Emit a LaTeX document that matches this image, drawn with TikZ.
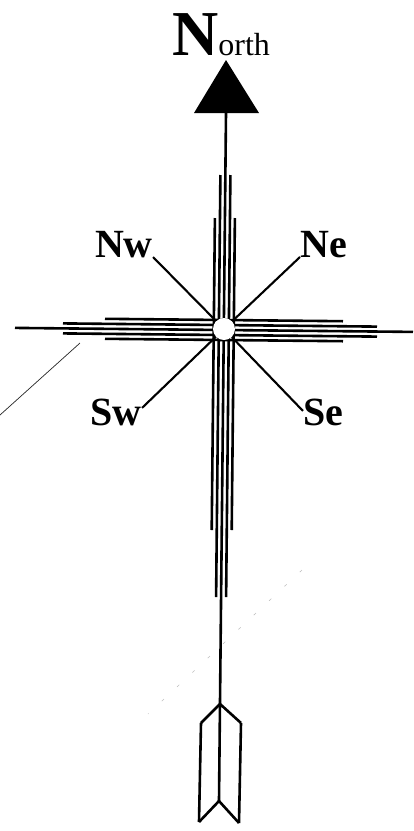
\documentclass[tikz,border=0pt]{standalone}
\usepackage{fontspec}
\setmainfont{Liberation Serif}
\usepackage{tikz}
\usetikzlibrary{calc, positioning}

\tikzset{
  bar/.style={line width=2.6pt},
  ray/.style={line width=2.1pt},
  dirlabel/.style={font=\fontsize{40}{40}\selectfont\bfseries, inner sep=0pt},
}

\begin{document}
\begin{tikzpicture}[x=1pt, y=-1pt]
  \useasboundingbox (0,0) rectangle (414,831);

  % faint scan lines
  \draw[line width=0.7pt, black!85] (80,343) -- (0,415);
  \draw[line width=0.6pt, black!25, dash pattern=on 3pt off 18pt] (302,570) -- (148,714);

  % arrow head and shaft
  \coordinate (tip) at (226,60);
  \coordinate (head) at (226,113);
  \coordinate (tail) at (219,801);
  \fill (tip) -- (259,113) -- (194,113) -- cycle;
  \draw[bar] (head) -- (tail);

  \node[inner sep=0pt, anchor=base west] (title) at (172,55)
    {{\fontsize{64}{64}\selectfont\bfseries N}{\fontsize{32}{32}\selectfont orth}};

  % vertical bundle
  \draw[bar] (220.4,175) -- (216.1,597);
  \draw[bar] (230.4,175) -- (226.1,597);
  \draw[bar] (214.9,218) -- (211.7,530);
  \draw[bar] (234.9,218) -- (231.7,530);

  % horizontal bundle
  \draw[bar] (15,327.9) -- (413,331.9);
  \draw[bar] (63,323.4) -- (377,326.6);
  \draw[bar] (63,333.4) -- (377,336.6);
  \draw[bar] (105,318.8) -- (343,321.2);
  \draw[bar] (105,338.8) -- (343,341.2);

  \node[circle, fill=white, minimum size=22pt, inner sep=0pt] (c) at (224,329) {};

  % directions
  \node[dirlabel, anchor=base east] (nw) at (153,257) {Nw};
  \node[dirlabel, anchor=base west] (ne) at (300,257) {Ne};
  \node[dirlabel, anchor=base east] (sw) at (142,425) {Sw};
  \node[dirlabel, anchor=base west] (se) at (303,425) {Se};

  \draw[ray] (nw.base east) -- (c);
  \draw[ray] (ne.base west) -- (c);
  \draw[ray] ([yshift=4pt]sw.east) -- (c);
  \draw[ray] ([yshift=1pt]se.west) -- (c);

  % feathers
  \coordinate (fl) at (201,723);
  \coordinate (fr) at (241,723);
  \coordinate (bl) at (199,822);
  \coordinate (br) at (239,823);
  \coordinate (notch) at (220,704);
  \draw[bar, line join=round] (fl) -- (notch) -- (fr);
  \draw[bar] (fl) -- (bl);
  \draw[bar] (fr) -- (br);
  \draw[bar, line join=round] (bl) -- (tail) -- (br);
\end{tikzpicture}
\end{document}
